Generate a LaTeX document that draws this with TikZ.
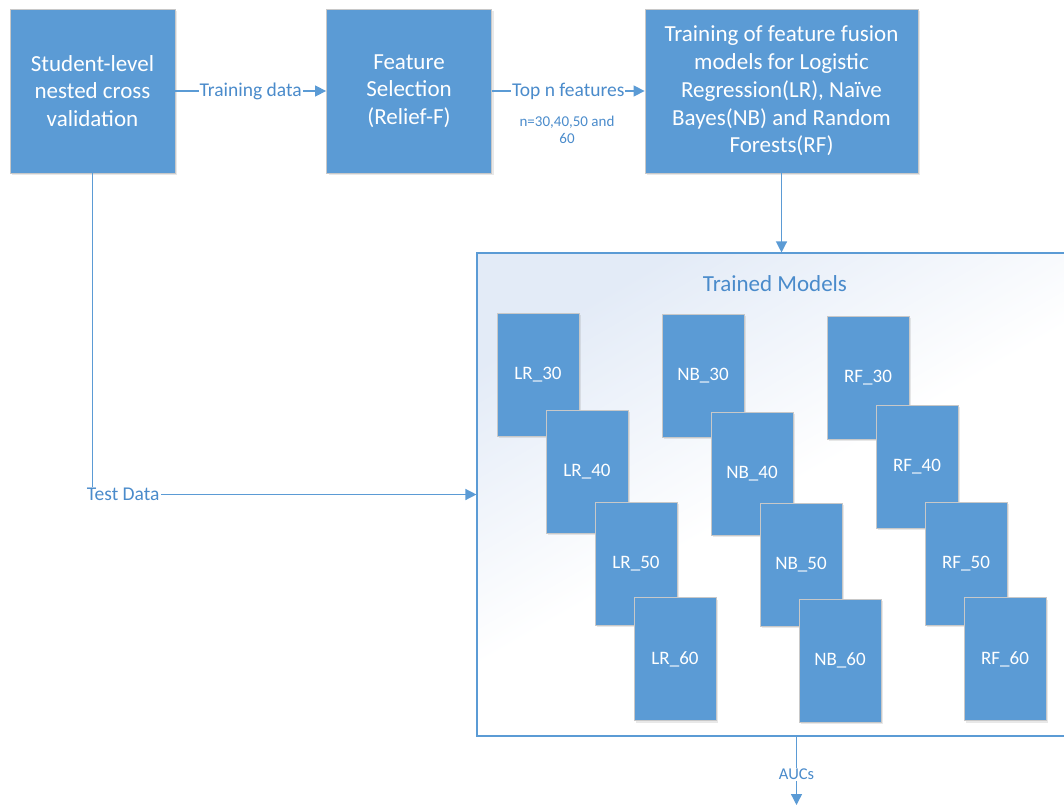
\documentclass[tikz,border=0pt]{standalone}
\usepackage{fontspec}
\setmainfont{Carlito}
\usepackage{tikz}
\usetikzlibrary{arrows.meta,positioning,shadows}

\definecolor{officeblue}{HTML}{5B9BD5}
\definecolor{labelblue}{HTML}{4A8BCB}
\definecolor{edgegray}{HTML}{C8C8C8}
\definecolor{paleblue}{HTML}{E3EBF7}

\begin{document}
\begin{tikzpicture}[x=1pt, y=-1pt,
            >={Triangle[length=11pt, width=11pt]},
            every path/.style={line width=1.1pt},
            flow/.style={draw=officeblue, ->, line width=1.3pt},
            block/.style={rectangle, draw=edgegray, line width=0.8pt, fill=officeblue, text=white, align=center,
                font=\fontsize{23}{27.7}\selectfont, inner sep=2pt,
                drop shadow={opacity=0.18, shadow xshift=2pt, shadow yshift=-2pt}},
            model/.style={block, minimum width=82pt, minimum height=123pt, font=\fontsize{19}{22}\selectfont},
            container/.style={rectangle, draw=officeblue, line width=1.1pt, top color=paleblue, bottom color=white, middle color=white, shading angle=30},
            flow label/.style={fill=white, text=labelblue, inner sep=1pt, font=\fontsize{19.5}{22}\selectfont},
            note/.style={text=labelblue, align=center, font=\fontsize{15}{17}\selectfont}
    ]
        \useasboundingbox (0,0) rectangle (1064,805);

        % Top row
        \node[block, minimum width=165pt, minimum height=164pt] (cv) at (92.5,91) {Student-level\\nested cross\\validation};
        \node[block, minimum width=165pt, minimum height=164pt] (fs) at (409,91) {Feature\\Selection\\(Relief-F)};
        \node[block, minimum width=273pt, minimum height=164pt] (train) at (781.5,91) {Training of feature fusion\\models for Logistic\\Regression(LR), Na\"ive\\Bayes(NB) and Random\\Forests(RF)};

        % Trained models
        \node[container, minimum width=598pt, minimum height=483pt] (models) at (776,494.5) {};
        \node[text=labelblue, font=\fontsize{23}{26}\selectfont] (title) at (775,284) {Trained Models};

        % Logistic Regression
        \node[model] (lr30) at (538,374.5) {LR\_30};
        \node[model] (lr40) at (587,471.5) {LR\_40};
        \node[model] (lr50) at (636,563.5) {LR\_50};
        \node[model] (lr60) at (675,659) {LR\_60};

        % Naive Bayes
        \node[model] (nb30) at (703,375.5) {NB\_30};
        \node[model] (nb40) at (752,473.5) {NB\_40};
        \node[model] (nb50) at (801,564.5) {NB\_50};
        \node[model] (nb60) at (840,660.5) {NB\_60};

        % Random Forests
        \node[model] (rf30) at (868,377.5) {RF\_30};
        \node[model] (rf40) at (917,466.5) {RF\_40};
        \node[model] (rf50) at (966,563.5) {RF\_50};
        \node[model] (rf60) at (1005,659) {RF\_60};

        \coordinate (auc) at (796.5,805);

        % Arrows
        \draw[flow] (cv) -- (fs) node[midway, flow label] {Training data};
        \draw[flow] (fs) -- (train) node[midway, flow label] {Top n features};
        \node[note] (topn) at (567,130) {n=30,40,50 and\\60};
        \draw[flow] (train.south) -- (train.south |- models.north);
        \draw[flow] (cv.south) |- (models.west) node[pos=0.54, flow label] {Test Data};
        \draw[flow] (auc |- models.south) -- (auc) node[pos=0.55, flow label, font=\fontsize{16.5}{18}\selectfont] {AUCs};

    \end{tikzpicture}
\end{document}
